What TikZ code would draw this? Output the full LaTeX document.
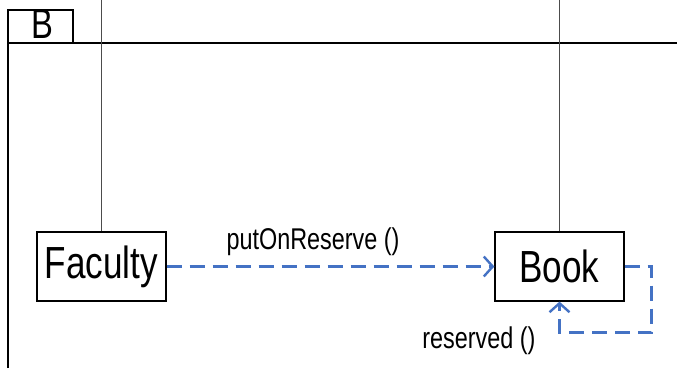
\documentclass[tikz,border=0pt]{standalone}
\usepackage{fontspec}
\setmainfont{Liberation Sans}[FakeStretch=0.78]
\usepackage{tikz}
\usetikzlibrary{arrows.meta}
\definecolor{msgblue}{RGB}{68,114,196}

\begin{document}
\begin{tikzpicture}[x=1pt, y=-1pt,
  obj/.style={draw, line width=1.2pt, minimum width=129pt, minimum height=69pt, inner sep=0pt, font=\fontsize{45}{50}\selectfont},
  msg/.style={msgblue, line width=2.6pt, dash pattern=on 15pt off 8pt, -{Straight Barb[length=9pt,width=20pt,line width=2.4pt]}},
  lbl/.style={font=\fontsize{30}{34}\selectfont, inner sep=0pt},
  life/.style={draw=black!70, line width=0.9pt}]
 \useasboundingbox (0,0) rectangle (677,368);
 %frame
 \draw[line width=1.4pt] (8,368) -- (8,10) -- (73,10) -- (73,43);
 \draw[line width=1.4pt] (8,43) -- (677,43);
 \node[anchor=base, font=\fontsize{42}{46}\selectfont, inner sep=0pt] (fname) at (42,38) {B};
 %objects
 \node[obj] (faculty) at (101.5,266.5) {Faculty};
 \node[obj] (book) at (559.5,266.5) {Book};
 \coordinate (factop) at (101.5,0);
 \coordinate (booktop) at (559.5,0);
 \draw[life] (factop) -- (faculty.north);
 \draw[life] (booktop) -- (book.north);
 %messages
 \draw[msg] (faculty.east) -- (book.west);
 \node[lbl, anchor=base] (putlbl) at (313,249) {putOnReserve ()};
 \draw[msg] (book.east) -| ++(27,66) -| (book.south);
 \node[lbl, anchor=base] (reslbl) at (479,348) {reserved ()};
\end{tikzpicture}
\end{document}
